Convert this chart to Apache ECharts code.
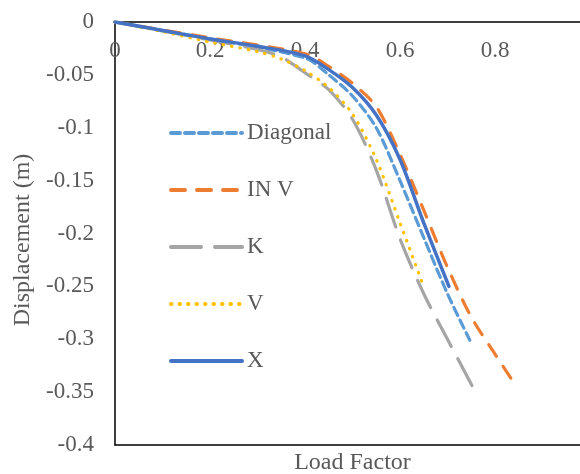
<!DOCTYPE html>
<html>
<head>
<meta charset="utf-8">
<script src="https://cdn.jsdelivr.net/npm/echarts@6/dist/echarts.min.js"></script>
<style>
  html, body { margin: 0; padding: 0; background: #fff; }
  #main { width: 580px; height: 474px; }
</style>
</head>
<body>
<div id="main"></div>
<script>
// values
const seriesNames = ['Diagonal', 'IN V', 'K', 'V', 'X']

const diagonalLoad = [0, 0.2, 0.4, 0.45, 0.5, 0.55, 0.6, 0.65, 0.7, 0.747]
const diagonalDisp = [0, -0.016, -0.034, -0.05, -0.07, -0.1, -0.15, -0.204, -0.257, -0.301]

const invLoad = [0, 0.2, 0.4, 0.45, 0.5, 0.55, 0.6, 0.65, 0.7, 0.75, 0.8, 0.838]
const invDisp = [0, -0.015, -0.03, -0.042, -0.058, -0.08, -0.125, -0.178, -0.232, -0.279, -0.314, -0.34]

const kLoad = [0, 0.2, 0.3, 0.35, 0.4, 0.45, 0.5, 0.55, 0.6, 0.65, 0.7, 0.76]
const kDisp = [0, -0.017, -0.026, -0.033, -0.048, -0.064, -0.092, -0.14, -0.205, -0.257, -0.3, -0.351]

const vLoad = [0, 0.1, 0.2, 0.3, 0.35, 0.4, 0.45, 0.5, 0.55, 0.6, 0.648]
const vDisp = [0, -0.009, -0.019, -0.028, -0.035, -0.046, -0.062, -0.087, -0.13, -0.19, -0.248]

const xLoad = [0, 0.1, 0.2, 0.3, 0.4, 0.45, 0.5, 0.55, 0.6, 0.65, 0.703]
const xDisp = [0, -0.008, -0.016, -0.023, -0.032, -0.045, -0.062, -0.088, -0.13, -0.19, -0.25]

const colors = ['#5B9BD5', '#ED7D31', '#A5A5A5', '#FFC000', '#4472C4']
const dashes = [[9, 5], [14, 12], [30, 14], [0.5, 8], 'solid']
const widths = [3.2, 3.2, 3.2, 3.2, 3.5]

const allLoad = [diagonalLoad, invLoad, kLoad, vLoad, xLoad]
const allDisp = [diagonalDisp, invDisp, kDisp, vDisp, xDisp]

const font = 'Liberation Serif'
const grey = '#595959'

const chart = echarts.init(document.getElementById('main'))

chart.setOption({
  animation: false,
  grid: { left: 115, top: 22, right: -10, bottom: 29, outerBoundsMode: 'none' },
  legend: {
    orient: 'vertical',
    left: 164,
    top: 115,
    itemWidth: 71,
    itemHeight: 14,
    itemGap: 31,
    data: seriesNames,
    itemStyle: { opacity: 0 },
    lineStyle: { width: 4 },
    textStyle: { fontFamily: font, fontSize: 23, color: grey, lineHeight: 26 }
  },
  xAxis: [
    {
      type: 'value',
      position: 'top',
      min: 0,
      max: 1,
      interval: 0.2,
      axisLine: { onZero: false, lineStyle: { color: '#000', width: 1.5 } },
      axisTick: { show: false },
      splitLine: { show: false },
      axisLabel: {
        inside: true,
        margin: 17,
        showMaxLabel: false,
        fontFamily: font,
        fontSize: 23,
        color: grey
      }
    },
    {
      type: 'value',
      position: 'bottom',
      min: 0,
      max: 1,
      name: 'Load Factor',
      nameLocation: 'middle',
      nameGap: 6,
      nameTextStyle: { fontFamily: font, fontSize: 24, color: grey },
      axisLine: { onZero: false, lineStyle: { color: '#000', width: 1.5 } },
      axisTick: { show: false },
      axisLabel: { show: false },
      splitLine: { show: false }
    }
  ],
  yAxis: {
    type: 'value',
    min: -0.4,
    max: 0,
    interval: 0.05,
    name: 'Displacement (m)',
    nameLocation: 'middle',
    nameGap: 78,
    nameTextStyle: { fontFamily: font, fontSize: 24, color: grey, padding: [0, 13, 0, 0] },
    axisLine: { show: true, onZero: false, lineStyle: { color: '#000', width: 1.5 } },
    axisTick: { show: false },
    splitLine: { show: false },
    axisLabel: { margin: 21, padding: [5, 0, 0, 0], fontFamily: font, fontSize: 23, color: grey }
  },
  series: seriesNames.map((name, i) => ({
    name: name,
    type: 'line',
    xAxisIndex: 0,
    smooth: 0.3,
    symbol: 'none',
    data: allLoad[i].map((v, j) => [v, allDisp[i][j]]),
    itemStyle: { color: colors[i] },
    lineStyle: { color: colors[i], width: widths[i], type: dashes[i], cap: 'round' }
  }))
})
</script>
</body>
</html>
